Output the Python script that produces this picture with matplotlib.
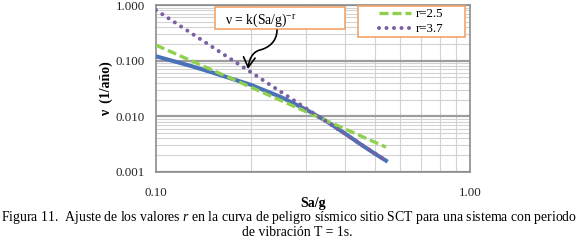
import matplotlib
matplotlib.use('Agg')
import matplotlib.pyplot as plt
from matplotlib.patches import Rectangle, FancyArrowPatch
from matplotlib.path import Path
from matplotlib.ticker import FixedLocator, FixedFormatter, NullFormatter

plt.rcParams['font.family'] = ['Liberation Serif', 'DejaVu Serif']
plt.rcParams['mathtext.fontset'] = 'custom'
plt.rcParams['mathtext.rm'] = 'Liberation Serif'
plt.rcParams['mathtext.it'] = 'Liberation Serif:italic'

# curva de peligro SCT, T = 1s
sa_curve = [0.10, 0.13, 0.15, 0.17, 0.20, 0.25, 0.30, 0.35, 0.40, 0.45, 0.50, 0.54]
nu_curve = [0.120, 0.0795, 0.062, 0.0495, 0.037, 0.0222, 0.0133, 0.0081,
            0.0049, 0.0031, 0.0021, 0.0016]

# ajustes nu = k (Sa/g)^-r  (rectas en log-log)
sa_fit = [0.10, 0.54]
nu_r25 = [0.19, 0.0028]
nu_r37 = [0.81, 0.0016]

y_ticks = [0.001, 0.01, 0.1, 1.0]
y_labels = ['0.001', '0.010', '0.100', '1.000']
x_ticks = [0.1, 1.0]
x_labels = ['0.10', '1.00']

W, H = 580, 241
orange = '#f2a468'

fig = plt.figure(figsize=(W / 100, H / 100), dpi=100)
ax = fig.add_axes([156 / W, 1 - 172 / H, 314 / W, 167 / H])
ax.set_xscale('log')
ax.set_yscale('log')
ax.set_xlim(0.1, 1.0)
ax.set_ylim(0.001, 1.0)

ax.set_axisbelow(True)
ax.yaxis.grid(True, which='major', color='#9c9c9c', lw=1.6)
ax.yaxis.grid(True, which='minor', color='#d2d2d2', lw=0.8)
ax.xaxis.grid(True, which='minor', color='#d2d2d2', lw=0.8)

ax.yaxis.set_major_locator(FixedLocator(y_ticks))
ax.yaxis.set_major_formatter(FixedFormatter(y_labels))
ax.yaxis.set_minor_formatter(NullFormatter())
ax.xaxis.set_major_locator(FixedLocator(x_ticks))
ax.xaxis.set_major_formatter(FixedFormatter(x_labels))
ax.xaxis.set_minor_formatter(NullFormatter())
ax.tick_params(which='both', length=0, labelsize=9.3, colors='#222222')
ax.tick_params(axis='y', pad=8)
ax.tick_params(axis='x', pad=11)
for s in ax.spines.values():
    s.set_color('#8c8c8c')
    s.set_linewidth(1.2)

ax.plot(sa_curve, nu_curve, color='#4a72b8', lw=2.9, zorder=3)
ax.plot(sa_fit, nu_r25, color='#8fd14f', lw=2.4, ls=(0, (2.7, 1.2)),
        label='r=2.5', zorder=3)
ax.plot(sa_fit, nu_r37, color='#7a5fa5', lw=2.9, ls=(0, (0.01, 1.85)),
        dash_capstyle='round', label='r=3.7', zorder=4)

# legend box
ax.add_patch(Rectangle((0.643, 0.808), 0.341, 0.185, transform=ax.transAxes,
                       facecolor='white', edgecolor=orange, lw=1.2,
                       zorder=5, clip_on=False))
leg = ax.legend(loc='center', bbox_to_anchor=(0.813, 0.90), frameon=False,
                fontsize=9.3, handlelength=2.5, handletextpad=0.4,
                labelspacing=0.25, borderpad=0.1)
leg.set_zorder(6)

# equation box
ax.add_patch(Rectangle(((215 - 156) / 314, (172 - 29) / 167), 130 / 314, 22 / 167,
                       transform=ax.transAxes, facecolor='white',
                       edgecolor=orange, lw=1.2, zorder=5, clip_on=False))
fig.text(225 / W, 1 - 20 / H, 'ν = k(Sa/g)$^{\\mathregular{-r}}$', fontsize=9.8,
         ha='left', va='center', zorder=7)

pts = [(277, 30), (277, 42), (268, 48), (260, 50),
       (252, 52), (249, 60), (248, 69)]
verts = [(x / W, 1 - y / H) for x, y in pts]
codes = [Path.MOVETO] + [Path.CURVE4] * 6
arrow = FancyArrowPatch(path=Path(verts, codes),
                        arrowstyle='->,head_length=0.6,head_width=0.35',
                        mutation_scale=12, lw=1.2, color='black',
                        transform=fig.transFigure, zorder=8)
fig.add_artist(arrow)

fig.text(106 / W, 1 - 89 / H, 'ν  (1/año)', rotation=90, fontsize=10,
         fontweight='bold', ha='center', va='center')
fig.text(313 / W, 1 - 204 / H, 'Sa/g', fontsize=10, fontweight='bold',
         ha='center', va='center')

fig.text(1 / W, 1 - 218 / H,
         'Figura 11.  Ajuste de los valores $r$ en la curva de peligro sísmico '
         'sitio SCT para una sistema con periodo',
         fontsize=9.9, ha='left', va='center')
fig.text(297 / W, 1 - 233 / H, 'de vibración T = 1s.', fontsize=9.9,
         ha='center', va='center')

fig.savefig('out.png', dpi=100)
